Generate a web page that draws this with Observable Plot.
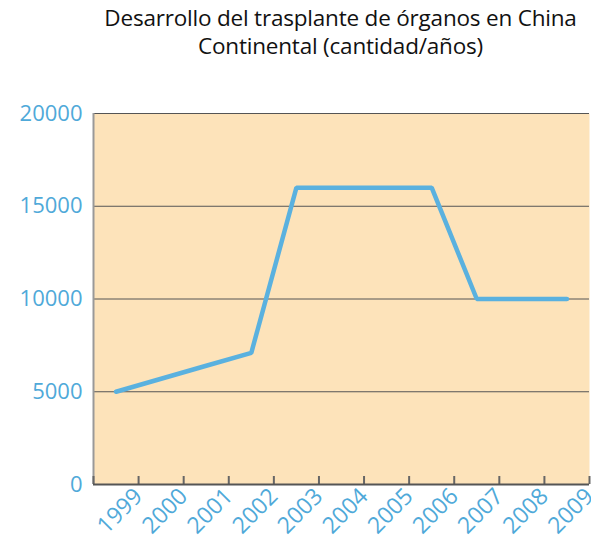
<!DOCTYPE html>
<html>
<head>
<meta charset="utf-8">
<script src="https://cdn.jsdelivr.net/npm/d3@7"></script>
<script src="https://cdn.jsdelivr.net/npm/@observablehq/plot@0.6"></script>
<style>
  body { margin: 0; background: #fff; }
  #title {
    width: 591px; box-sizing: border-box; padding-left: 90px; height: 80px;
    text-align: center; font-family: "Open Sans", sans-serif; font-size: 22.5px;
    font-weight: 500; line-height: 28px; color: #111; padding-top: 4px; letter-spacing: -0.2px;
  }
</style>
</head>
<body>
<div id="title">Desarrollo del trasplante de órganos en China<br>Continental (cantidad/años)</div>
<div id="chart"></div>
<script>
const years = [1999, 2000, 2001, 2002, 2003, 2004, 2005, 2006, 2007, 2008, 2009];
const counts = [5000, 5700, 6400, 7100, 16000, 16000, 16000, 16000, 10000, 10000, 10000];
const yTicks = [0, 5000, 10000, 15000, 20000];

const data = years.map((y, i) => ({year: y, count: counts[i]}));
const boundaries = [years[0] - 0.5, ...years.map(y => y + 0.5)];
const blue = "#4FA9D9";

const chart = Plot.plot({
  width: 591,
  height: 460,
  marginTop: 33,
  marginBottom: 56,
  marginLeft: 93,
  marginRight: 2,
  style: {fontFamily: "Open Sans, sans-serif", background: "transparent", overflow: "visible"},
  x: {domain: [years[0] - 0.5, years[years.length - 1] + 0.5], axis: null},
  y: {domain: [0, 20000], axis: null},
  marks: [
    Plot.frame({fill: "#FDE3BA", stroke: null}),
    Plot.gridY(yTicks.slice(1), {stroke: "#555", strokeOpacity: 1, strokeWidth: 1}),
    Plot.ruleX([boundaries[0]], {stroke: "#999", strokeWidth: 2}),
    Plot.axisX(boundaries, {tickSize: 8, dy: -8, text: null, label: null, stroke: "#666", strokeWidth: 2}),
    Plot.axisX(boundaries.slice(1), {tickSize: 0, tickRotate: -45, textAnchor: "end", label: null,
      tickFormat: d => String(d - 0.5), tickPadding: 8, fontSize: 23, fill: blue, fontWeight: 500}),
    Plot.axisY(yTicks, {tickSize: 0, tickPadding: 11, fontSize: 22, fill: blue, fontWeight: 500, label: null,
      tickFormat: d => String(d)}),
    Plot.ruleY([0], {stroke: "#555", strokeWidth: 2}),
    Plot.line(data, {x: "year", y: "count", stroke: "#5AB1DF", strokeWidth: 4.5, strokeLinejoin: "miter"})
  ]
});
document.getElementById("chart").appendChild(chart);
</script>
</body>
</html>
